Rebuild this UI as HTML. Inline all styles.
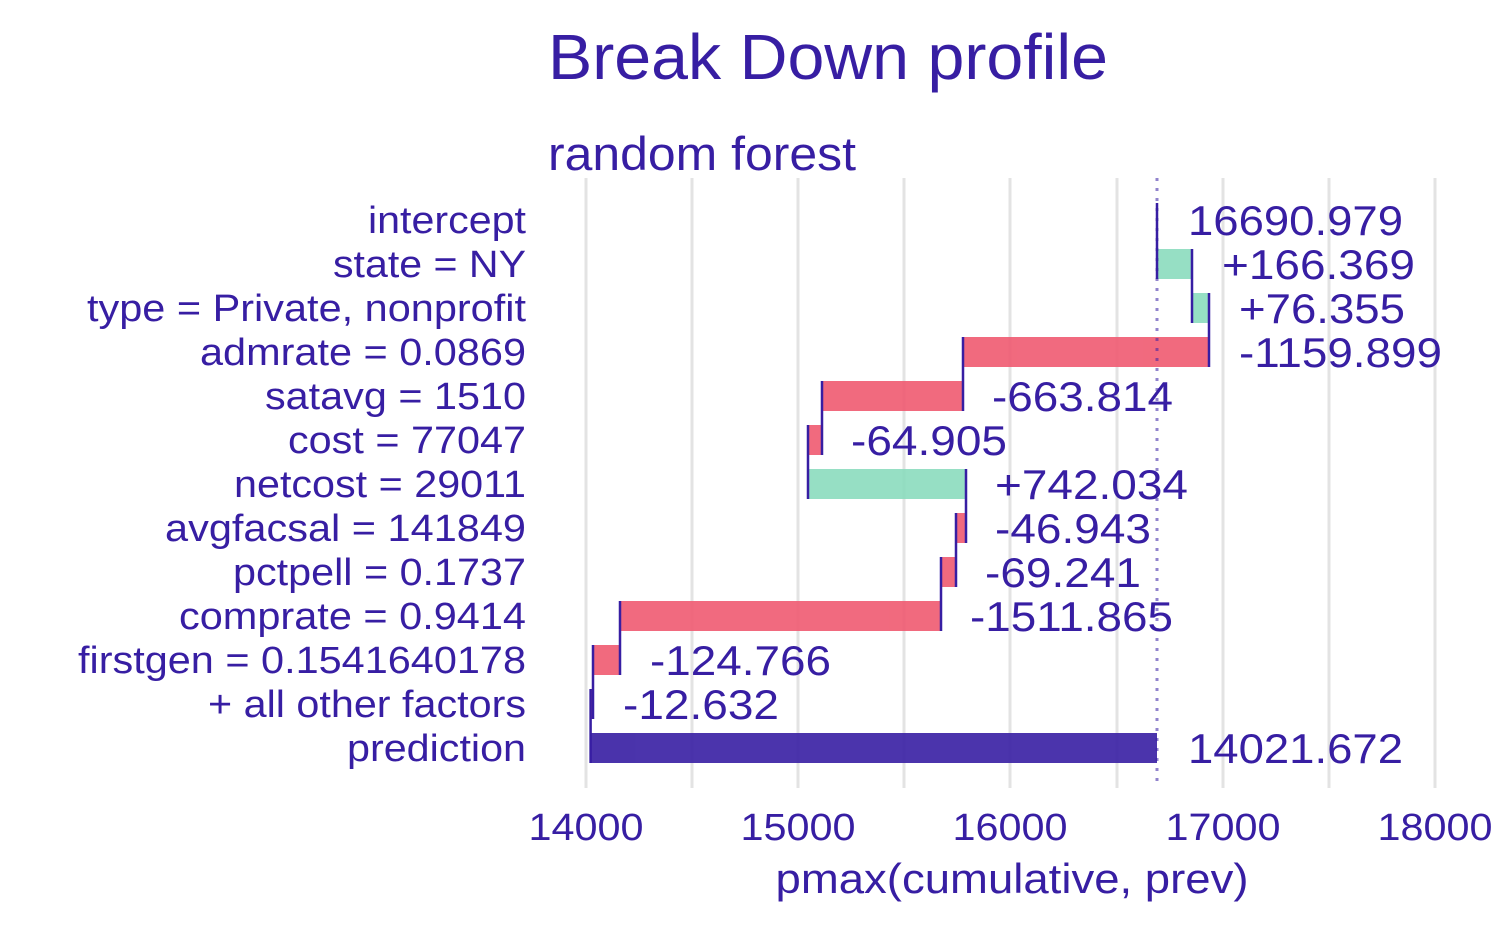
<!DOCTYPE html>
<html><head><style>body{margin:0;background:#fff}</style></head><body>
<svg width="1500" height="927" xmlns="http://www.w3.org/2000/svg" font-family="Liberation Sans, sans-serif" fill="#371EA3">
<g stroke="#e3e3e3" stroke-width="3">
<line x1="586" y1="178" x2="586" y2="788"/><line x1="692" y1="178" x2="692" y2="788"/>
<line x1="798" y1="178" x2="798" y2="788"/><line x1="904" y1="178" x2="904" y2="788"/>
<line x1="1010" y1="178" x2="1010" y2="788"/><line x1="1117" y1="178" x2="1117" y2="788"/>
<line x1="1223" y1="178" x2="1223" y2="788"/><line x1="1329" y1="178" x2="1329" y2="788"/>
<line x1="1435" y1="178" x2="1435" y2="788"/>
</g>
<g opacity="0.9">
<rect x="1157" y="249" width="35" height="30" fill="#8bdcbe"/>
<rect x="1192" y="293" width="17" height="30" fill="#8bdcbe"/>
<rect x="963" y="337" width="246" height="30" fill="#f05a71"/>
<rect x="822" y="381" width="141" height="30" fill="#f05a71"/>
<rect x="808" y="425" width="14" height="30" fill="#f05a71"/>
<rect x="808" y="469" width="158" height="30" fill="#8bdcbe"/>
<rect x="956" y="513" width="10" height="30" fill="#f05a71"/>
<rect x="941" y="557" width="15" height="30" fill="#f05a71"/>
<rect x="620" y="601" width="321" height="30" fill="#f05a71"/>
<rect x="593" y="645" width="27" height="30" fill="#f05a71"/>
<rect x="590.6" y="689" width="2.7" height="30" fill="#f05a71"/>
<rect x="590.6" y="733" width="566.4" height="30" fill="#371EA3"/>
</g>
<g stroke="#371EA3" stroke-width="2.5">
<line x1="1157" y1="203" x2="1157" y2="279"/>
<line x1="1192" y1="249" x2="1192" y2="323"/>
<line x1="1209" y1="293" x2="1209" y2="367"/>
<line x1="963" y1="337" x2="963" y2="411"/>
<line x1="822" y1="381" x2="822" y2="455"/>
<line x1="808" y1="425" x2="808" y2="499"/>
<line x1="966" y1="469" x2="966" y2="543"/>
<line x1="956" y1="513" x2="956" y2="587"/>
<line x1="941" y1="557" x2="941" y2="631"/>
<line x1="620" y1="601" x2="620" y2="675"/>
<line x1="593" y1="645" x2="593" y2="719"/>
<line x1="590.6" y1="689" x2="590.6" y2="763"/>
</g>
<line x1="1157" y1="178" x2="1157" y2="788" stroke="#371EA3" stroke-opacity="0.55" stroke-width="3" stroke-dasharray="3,7"/>
<g font-size="42" lengthAdjust="spacingAndGlyphs">
<text x="1188" y="235" textLength="215" lengthAdjust="spacingAndGlyphs">16690.979</text>
<text x="1222" y="279" textLength="193" lengthAdjust="spacingAndGlyphs">+166.369</text>
<text x="1239" y="323" textLength="166" lengthAdjust="spacingAndGlyphs">+76.355</text>
<text x="1239" y="367" textLength="203" lengthAdjust="spacingAndGlyphs">-1159.899</text>
<text x="992" y="411" textLength="181" lengthAdjust="spacingAndGlyphs">-663.814</text>
<text x="851" y="455" textLength="156" lengthAdjust="spacingAndGlyphs">-64.905</text>
<text x="995" y="499" textLength="193" lengthAdjust="spacingAndGlyphs">+742.034</text>
<text x="995" y="543" textLength="156" lengthAdjust="spacingAndGlyphs">-46.943</text>
<text x="985" y="587" textLength="156" lengthAdjust="spacingAndGlyphs">-69.241</text>
<text x="970" y="631" textLength="203" lengthAdjust="spacingAndGlyphs">-1511.865</text>
<text x="650" y="675" textLength="181" lengthAdjust="spacingAndGlyphs">-124.766</text>
<text x="623" y="719" textLength="156" lengthAdjust="spacingAndGlyphs">-12.632</text>
<text x="1188" y="763" textLength="215" lengthAdjust="spacingAndGlyphs">14021.672</text>
</g>
<g font-size="38" text-anchor="end">
<text x="526" y="233" textLength="158" lengthAdjust="spacingAndGlyphs">intercept</text>
<text x="526" y="277" textLength="193" lengthAdjust="spacingAndGlyphs">state = NY</text>
<text x="526" y="321" textLength="439" lengthAdjust="spacingAndGlyphs">type = Private, nonprofit</text>
<text x="526" y="365" textLength="326" lengthAdjust="spacingAndGlyphs">admrate = 0.0869</text>
<text x="526" y="409" textLength="261" lengthAdjust="spacingAndGlyphs">satavg = 1510</text>
<text x="526" y="453" textLength="238" lengthAdjust="spacingAndGlyphs">cost = 77047</text>
<text x="526" y="497" textLength="292" lengthAdjust="spacingAndGlyphs">netcost = 29011</text>
<text x="526" y="541" textLength="361" lengthAdjust="spacingAndGlyphs">avgfacsal = 141849</text>
<text x="526" y="585" textLength="293" lengthAdjust="spacingAndGlyphs">pctpell = 0.1737</text>
<text x="526" y="629" textLength="347" lengthAdjust="spacingAndGlyphs">comprate = 0.9414</text>
<text x="526" y="673" textLength="448" lengthAdjust="spacingAndGlyphs">firstgen = 0.1541640178</text>
<text x="526" y="717" textLength="318" lengthAdjust="spacingAndGlyphs">+ all other factors</text>
<text x="526" y="761" textLength="179" lengthAdjust="spacingAndGlyphs">prediction</text>
</g>
<g font-size="38" text-anchor="middle">
<text x="586" y="840" textLength="115" lengthAdjust="spacingAndGlyphs">14000</text><text x="798" y="840" textLength="115" lengthAdjust="spacingAndGlyphs">15000</text><text x="1010" y="840" textLength="115" lengthAdjust="spacingAndGlyphs">16000</text>
<text x="1223" y="840" textLength="115" lengthAdjust="spacingAndGlyphs">17000</text><text x="1435" y="840" textLength="115" lengthAdjust="spacingAndGlyphs">18000</text>
</g>
<text x="1012" y="893" font-size="42" text-anchor="middle" textLength="473" lengthAdjust="spacingAndGlyphs">pmax(cumulative, prev)</text>
<text x="548" y="79" font-size="64" textLength="560" lengthAdjust="spacingAndGlyphs">Break Down profile</text>
<text x="548" y="170" font-size="47" textLength="308" lengthAdjust="spacingAndGlyphs">random forest</text>
</svg>
</body></html>
